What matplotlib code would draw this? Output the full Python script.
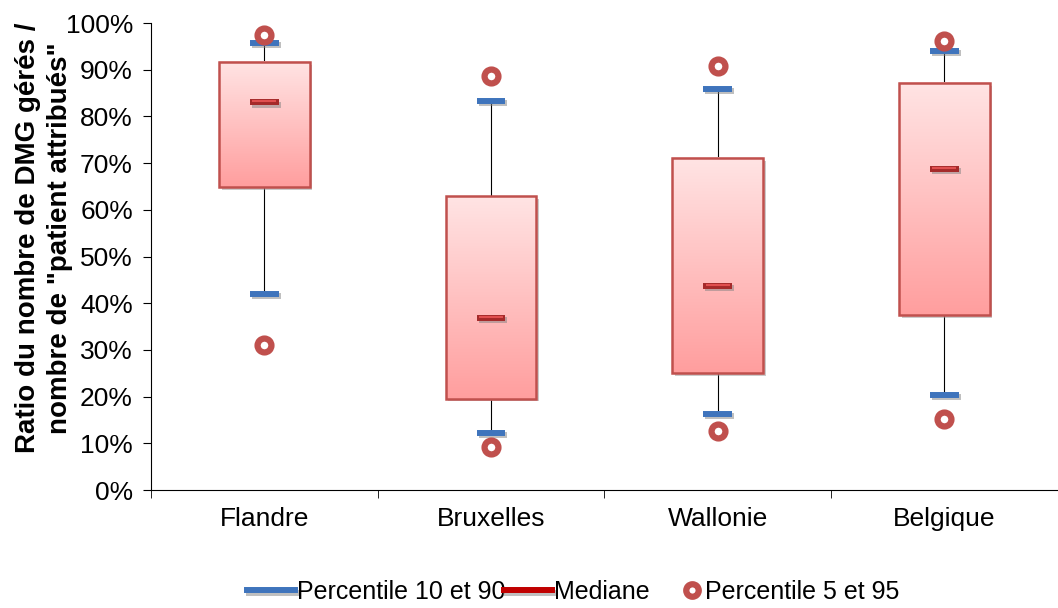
import numpy as np
import matplotlib.pyplot as plt
from matplotlib.patches import Rectangle
from matplotlib.lines import Line2D
import matplotlib.patheffects as pe

plt.rcParams['font.family'] = ['Liberation Sans', 'DejaVu Sans']

regions = ['Flandre', 'Bruxelles', 'Wallonie', 'Belgique']
p5 = [31.0, 9.2, 12.6, 15.2]
p10 = [42.0, 12.2, 16.3, 20.3]
q1 = [64.8, 19.6, 25.0, 37.5]
median = [83.0, 36.8, 43.7, 68.8]
q3 = [91.7, 63.0, 71.1, 87.2]
p90 = [95.7, 83.3, 85.9, 94.0]
p95 = [97.4, 88.6, 90.8, 96.1]

fig = plt.figure(figsize=(10.58, 6.08), dpi=100)
ax = fig.add_axes([0.1427, 0.194, 0.857, 0.768])

box_w = 0.4
cap_w = 0.127
# vertical gradient light pink (top) -> salmon (bottom)
top_col = np.array([255, 228, 228]) / 255
bot_col = np.array([255, 158, 158]) / 255
grad = np.linspace(0, 1, 256)[:, None]
grad_img = top_col[None, None, :] * (1 - grad[..., None]) + bot_col[None, None, :] * grad[..., None]

shadow = [pe.SimplePatchShadow(offset=(2, -2), shadow_rgbFace='0.6', alpha=0.5), pe.Normal()]
line_shadow = [pe.SimpleLineShadow(offset=(1.5, -1.5), shadow_color='0.5', alpha=0.5), pe.Normal()]

for i in range(len(regions)):
    # whiskers
    ax.plot([i, i], [p10[i], q1[i]], color='black', lw=0.8, zorder=1)
    ax.plot([i, i], [q3[i], p90[i]], color='black', lw=0.8, zorder=1)
    # box
    bg = Rectangle((i - box_w / 2, q1[i]), box_w, q3[i] - q1[i], facecolor='white',
                   edgecolor='none', zorder=2, path_effects=shadow)
    ax.add_patch(bg)
    ax.imshow(grad_img, extent=(i - box_w / 2, i + box_w / 2, q1[i], q3[i]),
              aspect='auto', zorder=2.5, origin='upper')
    rect = Rectangle((i - box_w / 2, q1[i]), box_w, q3[i] - q1[i], facecolor='none',
                     edgecolor='#C0504D', lw=1.8, zorder=3)
    ax.add_patch(rect)
    # median
    ax.plot([i - cap_w / 2, i + cap_w / 2], [median[i], median[i]], color='#A52A2A',
            lw=4.3, solid_capstyle='butt', zorder=4, path_effects=line_shadow)
    ax.plot([i - cap_w / 2 + 0.01, i + cap_w / 2 - 0.01], [median[i] + 0.25, median[i] + 0.25],
            color='#E05050', lw=1.5, solid_capstyle='butt', zorder=4.5)
    # percentile 10/90
    for v in (p10[i], p90[i]):
        ax.plot([i - cap_w / 2, i + cap_w / 2], [v, v], color='#3F74BC', lw=4.3,
                solid_capstyle='butt', zorder=4, path_effects=line_shadow)

ax.plot(range(len(regions)), p5, 'o', ms=10, mfc='white', mec='#C0504D', mew=4.5, zorder=5, ls='none')
ax.plot(range(len(regions)), p95, 'o', ms=10, mfc='white', mec='#C0504D', mew=4.5, zorder=5, ls='none')

ax.set_xlim(-0.5, 3.48)
ax.set_ylim(0, 100)
ax.set_yticks(np.arange(0, 101, 10))
ax.set_yticklabels([f'{v}%' for v in range(0, 101, 10)], fontsize=19)
ax.set_xticks(range(len(regions)))
ax.set_xticklabels(regions, fontsize=19)
ax.tick_params(axis='x', length=0, pad=12)
ax.set_xticks(np.arange(-0.5, 3.6, 1), minor=True)
ax.tick_params(axis='x', which='minor', length=6, direction='out')
ax.tick_params(axis='y', length=6, direction='out', pad=7)
for s in ['top', 'right']:
    ax.spines[s].set_visible(False)
ax.set_ylabel('Ratio du nombre de DMG gérés /\nnombre de "patient attribués"',
              fontsize=20, fontweight='bold', linespacing=1.28)
ax.yaxis.set_label_coords(-0.086, 0.54)

# legend, three separate entries like the original layout
leg_kw = dict(loc='center left', frameon=False, fontsize=18, borderpad=0, borderaxespad=0)
fig.legend([Line2D([], [], color='#3F74BC', lw=4.3, path_effects=line_shadow)],
           ['Percentile 10 et 90'], bbox_to_anchor=(0.2335, 0.026),
           handlelength=1.9, handletextpad=0.1, **leg_kw)
fig.legend([Line2D([], [], color='#C00000', lw=4.3, path_effects=line_shadow)],
           ['Mediane'], bbox_to_anchor=(0.4765, 0.026),
           handlelength=1.9, handletextpad=0.1, **leg_kw)
fig.legend([Line2D([], [], marker='o', ls='none', ms=9, mfc='white', mec='#C0504D', mew=4.5)],
           ['Percentile 5 et 95'], bbox_to_anchor=(0.643, 0.026),
           handlelength=0.9, handletextpad=0.1, **leg_kw)

fig.savefig('out.png', dpi=100)
